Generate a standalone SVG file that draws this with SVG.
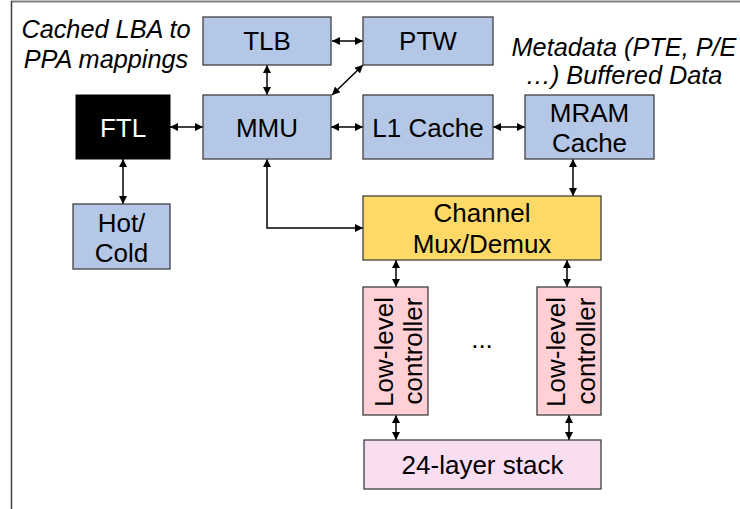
<svg xmlns="http://www.w3.org/2000/svg" width="740" height="509" viewBox="0 0 740 509">
<style>
.blue{fill:#b4c7e7;stroke:#404040;stroke-width:1.3}
.yel{fill:#ffd966;stroke:#404040;stroke-width:1.3}
.llc{fill:#ffd1d7;stroke:#404040;stroke-width:1.3}
.stk{fill:#f9ddf1;stroke:#404040;stroke-width:1.3}
.t{font-family:"Liberation Sans",Arial,sans-serif;font-size:26px;fill:#000;text-anchor:middle}
.it{font-family:"Liberation Sans",Arial,sans-serif;font-size:25.3px;font-style:italic;fill:#000;text-anchor:middle}
.c{fill:none;stroke:#000;stroke-width:1.5;marker-start:url(#ah);marker-end:url(#ah)}
</style>
<defs>
<marker id="ah" viewBox="0 0 10 10" refX="10" refY="5" markerWidth="8" markerHeight="8" markerUnits="userSpaceOnUse" orient="auto-start-reverse">
<path d="M0,0 L10,5 L0,10 z" fill="#000"/>
</marker>
</defs>
<g id="frame">
<line x1="11" y1="1.5" x2="740" y2="1.5" stroke="#808080" stroke-width="2"/>
<line x1="11.5" y1="1" x2="11.5" y2="509" stroke="#404040" stroke-width="1.5"/>
</g>
<g id="note-lba">
<text class="it" x="106" y="38">Cached LBA to</text>
<text class="it" x="106" y="68">PPA mappings</text>
</g>
<g id="note-meta">
<text class="it" x="624" y="56">Metadata (PTE, P/E</text>
<text class="it" x="624" y="84">…) Buffered Data</text>
</g>
<g id="connectors">
<line class="c" x1="332" y1="41" x2="363" y2="41"/>
<line class="c" x1="267" y1="65" x2="267" y2="95"/>
<line class="c" x1="363" y1="65" x2="332" y2="95"/>
<line class="c" x1="170" y1="127" x2="203" y2="127"/>
<line class="c" x1="331" y1="127" x2="363" y2="127"/>
<line class="c" x1="493" y1="127" x2="525" y2="127"/>
<line class="c" x1="123" y1="159" x2="123" y2="204"/>
<line class="c" x1="573" y1="159" x2="573" y2="196"/>
<path class="c" d="M267,159 V228 H363"/>
<line class="c" x1="396" y1="260" x2="396" y2="287"/>
<line class="c" x1="567" y1="260" x2="567" y2="287"/>
<line class="c" x1="396" y1="415" x2="396" y2="440"/>
<line class="c" x1="569" y1="415" x2="569" y2="440"/>
</g>
<g id="tlb">
<rect class="blue" x="203" y="17" width="128" height="48"/>
<text class="t" x="267" y="50">TLB</text>
</g>
<g id="ptw">
<rect class="blue" x="363" y="17" width="130" height="48"/>
<text class="t" x="428" y="50">PTW</text>
</g>
<g id="ftl">
<rect x="76" y="95" width="94" height="64" fill="#000" stroke="#000"/>
<text class="t" x="123" y="137" style="fill:#fff">FTL</text>
</g>
<g id="mmu">
<rect class="blue" x="203" y="95" width="128" height="64"/>
<text class="t" x="267" y="137">MMU</text>
</g>
<g id="l1cache">
<rect class="blue" x="363" y="95" width="130" height="64"/>
<text class="t" x="428" y="137">L1 Cache</text>
</g>
<g id="mram">
<rect class="blue" x="525" y="95" width="129" height="64"/>
<text class="t" x="589.5" y="122">MRAM</text>
<text class="t" x="589.5" y="152">Cache</text>
</g>
<g id="hotcold">
<rect class="blue" x="73" y="204" width="97" height="65"/>
<text class="t" x="121.5" y="232">Hot/</text>
<text class="t" x="121.5" y="262">Cold</text>
</g>
<g id="channel">
<rect class="yel" x="363" y="196" width="238" height="64"/>
<text class="t" x="482" y="222">Channel</text>
<text class="t" x="482" y="253">Mux/Demux</text>
</g>
<g id="llc1">
<rect class="llc" x="363" y="287" width="65" height="128"/>
<text class="t" transform="translate(393,352) rotate(-90)">Low-level</text>
<text class="t" transform="translate(422,351) rotate(-90)">controller</text>
</g>
<g id="dots">
<text class="t" x="482" y="348">...</text>
</g>
<g id="llc2">
<rect class="llc" x="537" y="287" width="64" height="128"/>
<text class="t" transform="translate(565,352) rotate(-90)">Low-level</text>
<text class="t" transform="translate(595,351) rotate(-90)">controller</text>
</g>
<g id="stack">
<rect class="stk" x="364" y="440" width="237" height="49"/>
<text class="t" x="482.5" y="474">24-layer stack</text>
</g>
</svg>
